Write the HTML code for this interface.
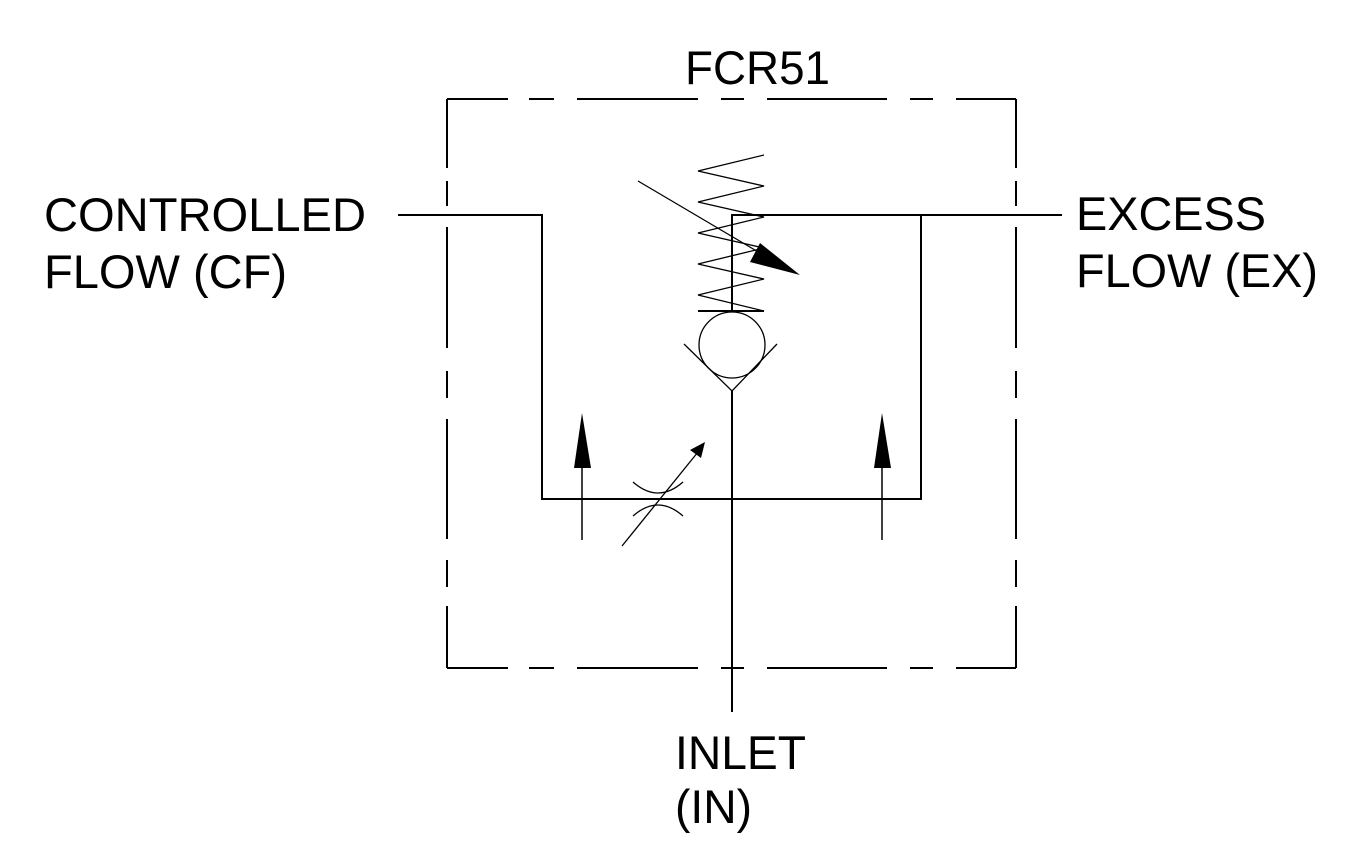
<!DOCTYPE html>
<html><head><style>html,body{margin:0;padding:0;background:#fff;}svg{display:block}</style></head>
<body>
<svg width="1348" height="858" viewBox="0 0 1348 858" xmlns="http://www.w3.org/2000/svg">
<g stroke="#000" stroke-width="2" fill="none">
<!-- dashed box top/bottom -->
<path d="M447 99H508M529 99H554M577 99H698M721 99H744M767 99H887M910 99H933M956 99H1016"/>
<path d="M447 668H508M529 668H554M577 668H698M721 668H744M767 668H887M910 668H933M956 668H1016"/>
<path d="M447 99V168M447 181V206M447 227V348M447 371V398M447 419V539M447 560V587M447 606V668"/>
<path d="M1016 99V168M1016 181V206M1016 227V348M1016 371V398M1016 419V539M1016 560V587M1016 606V668"/>
<!-- flow lines -->
<path d="M398 215H542V499H921V215H732V311"/>
<path d="M921 215H1062"/>
<path d="M732 391V712"/>
<path d="M698 311H764"/>
</g>
<g stroke="#000" stroke-width="1.3" fill="none">
<polyline points="764,155 698,171 764,186 698,202 764,217 698,233 764,248 698,264 764,279 698,295 764,311"/>
<circle cx="732" cy="345" r="33"/>
<polyline points="684,344 732,391 777,344"/>
<line x1="638" y1="181" x2="760" y2="253"/>
<line x1="622" y1="546" x2="698" y2="452"/>
<path d="M633 482 Q658 504 683 482"/>
<path d="M633 516 Q658 494 683 516"/>
</g>
<polygon points="800,275 750,262 760,243" fill="#000"/>
<polygon points="705,442 701,458 690,450" fill="#000"/>
<g stroke="#000" stroke-width="1.5"><line x1="582" y1="466" x2="582" y2="540"/><line x1="882" y1="466" x2="882" y2="540"/></g>
<polygon points="582,413 574,468 591,468" fill="#000"/>
<polygon points="882,413 874,468 891,468" fill="#000"/>
<g font-family="Liberation Sans, Arial, sans-serif" font-size="47" fill="#000">
<text x="685" y="84" textLength="145" lengthAdjust="spacingAndGlyphs">FCR51</text>
<text x="44" y="231" textLength="322" lengthAdjust="spacingAndGlyphs">CONTROLLED</text>
<text x="44" y="288" textLength="243" lengthAdjust="spacingAndGlyphs">FLOW (CF)</text>
<text x="1076" y="230" textLength="190" lengthAdjust="spacingAndGlyphs">EXCESS</text>
<text x="1076" y="287" textLength="242" lengthAdjust="spacingAndGlyphs">FLOW (EX)</text>
<text x="675" y="769" textLength="131" lengthAdjust="spacingAndGlyphs">INLET</text>
<text x="675" y="823" textLength="77" lengthAdjust="spacingAndGlyphs">(IN)</text>
</g>
</svg>
</body></html>
